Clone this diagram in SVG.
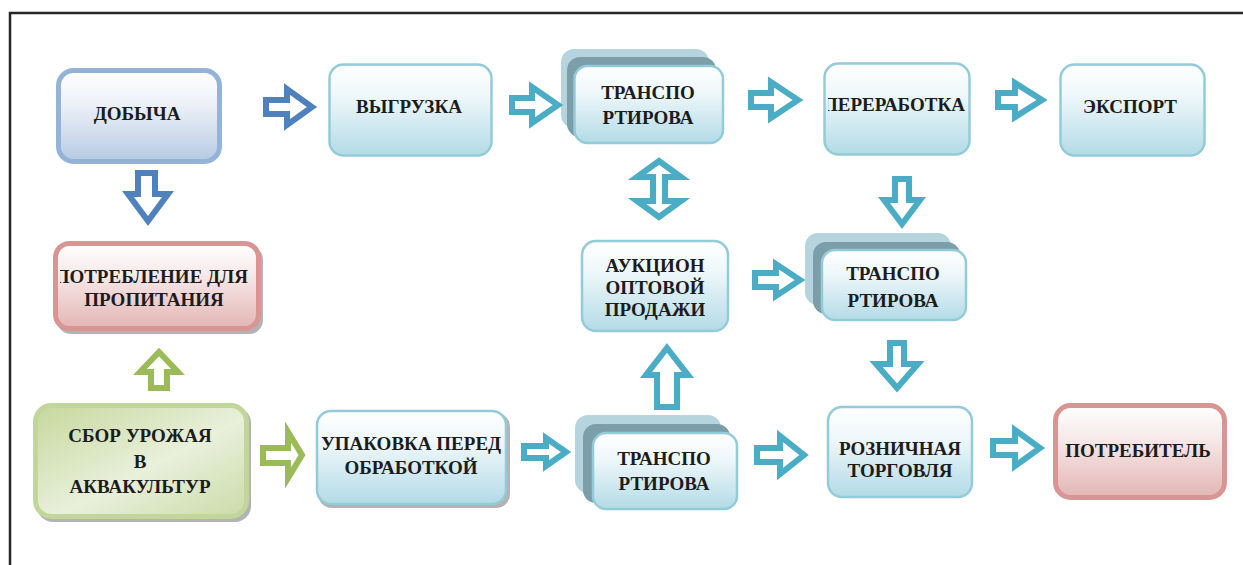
<svg xmlns="http://www.w3.org/2000/svg" width="1243" height="565" viewBox="0 0 1243 565">
<defs>
<linearGradient id="gTeal" x1="0" y1="0" x2="0" y2="1"><stop offset="0" stop-color="#ffffff"/><stop offset="0.35" stop-color="#eef7fa"/><stop offset="1" stop-color="#b3dbe6"/></linearGradient>
<linearGradient id="gBlue" x1="0" y1="0" x2="0" y2="1"><stop offset="0" stop-color="#ffffff"/><stop offset="0.35" stop-color="#eef2f8"/><stop offset="1" stop-color="#b6cae3"/></linearGradient>
<linearGradient id="gPink" x1="0" y1="0" x2="0" y2="1"><stop offset="0" stop-color="#ffffff"/><stop offset="0.35" stop-color="#f7eaea"/><stop offset="1" stop-color="#e3b5b4"/></linearGradient>
<linearGradient id="gGreen" x1="0" y1="0" x2="1" y2="1"><stop offset="0" stop-color="#c6d89c"/><stop offset="0.55" stop-color="#e9f0db"/><stop offset="1" stop-color="#cbdba8"/></linearGradient>
<clipPath id="cPer"><rect x="828" y="60" width="140" height="100"/></clipPath>
<clipPath id="cPotr"><rect x="60" y="240" width="196" height="90"/></clipPath>
<clipPath id="cUpak"><rect x="320" y="410" width="185" height="95"/></clipPath>
</defs>
<style>
.frame{stroke:#262626;stroke-width:2.5;fill:none}
.teal{fill:url(#gTeal);stroke:#93cbd8;stroke-width:2.5}
.blue{fill:url(#gBlue);stroke:#95b3d7;stroke-width:5}
.pink{fill:url(#gPink);stroke:#d99594;stroke-width:5}
.green{fill:url(#gGreen);stroke:#c2d69b;stroke-width:5}
.shadow{fill:#9a9a9a;opacity:0.75}
.back{fill:#a9cdd7;opacity:0.85}
.mid{fill:#7c9ea9}
.t{font-family:"Liberation Serif","Times New Roman",serif;font-weight:bold;font-size:19px;fill:#1c1c1c;text-anchor:middle}
.ab{fill:#fff;stroke:#4f81bd;stroke-width:6;stroke-linejoin:miter}
.at{fill:#fff;stroke:#4bacc6;stroke-width:6;stroke-linejoin:miter}
.ag{fill:#fff;stroke:#9bbb59;stroke-width:6;stroke-linejoin:miter}
</style>
<rect width="1243" height="565" fill="#ffffff"/>
<path class="frame" d="M10,565 V13 H1243"/>

<g id="dobycha">
<rect class="blue" x="58.5" y="70.5" width="161" height="91" rx="15"/>
<text class="t" x="137" y="120">ДОБЫЧА</text>
</g>

<g id="vygruzka">
<rect class="teal" x="329.5" y="64.5" width="162" height="91" rx="14"/>
<text class="t" x="409" y="113">ВЫГРУЗКА</text>
</g>

<g id="transport-top">
<rect class="back" x="561" y="49" width="148" height="79" rx="13"/>
<rect class="mid" x="567" y="57" width="149" height="80" rx="13"/>
<rect class="teal" x="574.5" y="66" width="148.5" height="77" rx="13"/>
<text class="t" x="648" y="99">ТРАНСПО</text>
<text class="t" x="648" y="124">РТИРОВА</text>
</g>

<g id="pererabotka">
<rect class="teal" x="824.5" y="63.5" width="145" height="91" rx="14"/>
<text class="t" x="965" y="111" style="text-anchor:end" clip-path="url(#cPer)">ПЕРЕРАБОТКА</text>
</g>

<g id="eksport">
<rect class="teal" x="1060.5" y="64.5" width="144" height="91" rx="14"/>
<text class="t" x="1130" y="113">ЭКСПОРТ</text>
</g>

<g id="potreblenie">
<rect class="shadow" x="57" y="246" width="206" height="88" rx="14"/>
<rect class="pink" x="55.5" y="243.5" width="203" height="85" rx="14"/>
<text class="t" x="248" y="283" style="text-anchor:end" clip-path="url(#cPotr)">ПОТРЕБЛЕНИЕ ДЛЯ</text>
<text class="t" x="154" y="306">ПРОПИТАНИЯ</text>
</g>

<g id="sbor">
<rect class="shadow" x="37" y="407" width="214" height="115" rx="16"/>
<rect class="green" x="35.5" y="405.5" width="211" height="111" rx="16"/>
<text class="t" x="140" y="442">СБОР УРОЖАЯ</text>
<text class="t" x="140" y="468">В</text>
<text class="t" x="140" y="493">АКВАКУЛЬТУР</text>
</g>

<g id="upakovka">
<rect class="shadow" x="318" y="413" width="192" height="95" rx="14"/>
<rect class="teal" x="317" y="411" width="189" height="93" rx="14"/>
<text class="t" x="411" y="450" clip-path="url(#cUpak)">УПАКОВКА ПЕРЕД</text>
<text class="t" x="411" y="474">ОБРАБОТКОЙ</text>
</g>

<g id="transport-bottom">
<rect class="back" x="575" y="415" width="146" height="78" rx="13"/>
<rect class="mid" x="583" y="424" width="147" height="79" rx="13"/>
<rect class="teal" x="593" y="433" width="144" height="76" rx="13"/>
<text class="t" x="664" y="465">ТРАНСПО</text>
<text class="t" x="664" y="490">РТИРОВА</text>
</g>

<g id="aukcion">
<rect class="teal" x="582" y="241" width="146" height="90" rx="14"/>
<text class="t" x="655" y="272">АУКЦИОН</text>
<text class="t" x="655" y="294">ОПТОВОЙ</text>
<text class="t" x="655" y="316">ПРОДАЖИ</text>
</g>

<g id="transport-mid">
<rect class="back" x="805" y="233" width="146" height="72" rx="13"/>
<rect class="mid" x="813" y="242" width="147" height="72" rx="13"/>
<rect class="teal" x="822" y="250" width="144" height="70" rx="13"/>
<text class="t" x="893" y="280">ТРАНСПО</text>
<text class="t" x="893" y="307">РТИРОВА</text>
</g>

<g id="roznichnaya">
<rect class="teal" x="828" y="407" width="144" height="90" rx="14"/>
<text class="t" x="900" y="455">РОЗНИЧНАЯ</text>
<text class="t" x="900" y="477">ТОРГОВЛЯ</text>
</g>

<g id="potrebitel">
<rect class="pink" x="1055.5" y="405.5" width="169" height="92" rx="15"/>
<text class="t" x="1138" y="457">ПОТРЕБИТЕЛЬ</text>
</g>

<g id="connectors">
<path class="ab" d="M266,100 H287 V89 L312,107 L287,125 V114 H266 Z"/>
<path class="ab" d="M138,173 V194 H128 L148,221 L168,194 H155 V173 Z"/>
<path class="at" d="M512,98 H532 V87 L558,105 L532,123 V112 H512 Z"/>
<path class="at" d="M751,93 H771 V82 L798,100 L771,118 V107 H751 Z"/>
<path class="at" d="M998,93 H1015 V83 L1042,100 L1015,117 V107 H998 Z"/>
<path class="at" d="M659,161 L681,177 H665 V201 H681 L659,217 L637,201 H653 V177 H637 Z"/>
<path class="at" d="M755,273 H776 V264 L800,280 L776,296 V287 H755 Z"/>
<path class="at" d="M895,179 V200 H884 L902,224 L920,200 H909 V179 Z"/>
<path class="at" d="M890,343 V364 H876 L897,388 L918,364 H904 V343 Z"/>
<path class="ag" d="M159,352 L178,372 H167 V388 H151 V372 H140 Z"/>
<path class="ag" d="M263,448 H288 V432 L302,455 L288,478 V463 H263 Z"/>
<path class="at" d="M524,446 H546 V438 L566,452 L546,466 V458 H524 Z"/>
<path class="at" d="M667,348 L688,375 H677 V407 H657 V375 H646 Z"/>
<path class="at" d="M757,448 H780 V436 L804,455 L780,474 V462 H757 Z"/>
<path class="at" d="M993,441 H1015 V430 L1040,448 L1015,466 V455 H993 Z"/>
</g>
</svg>
